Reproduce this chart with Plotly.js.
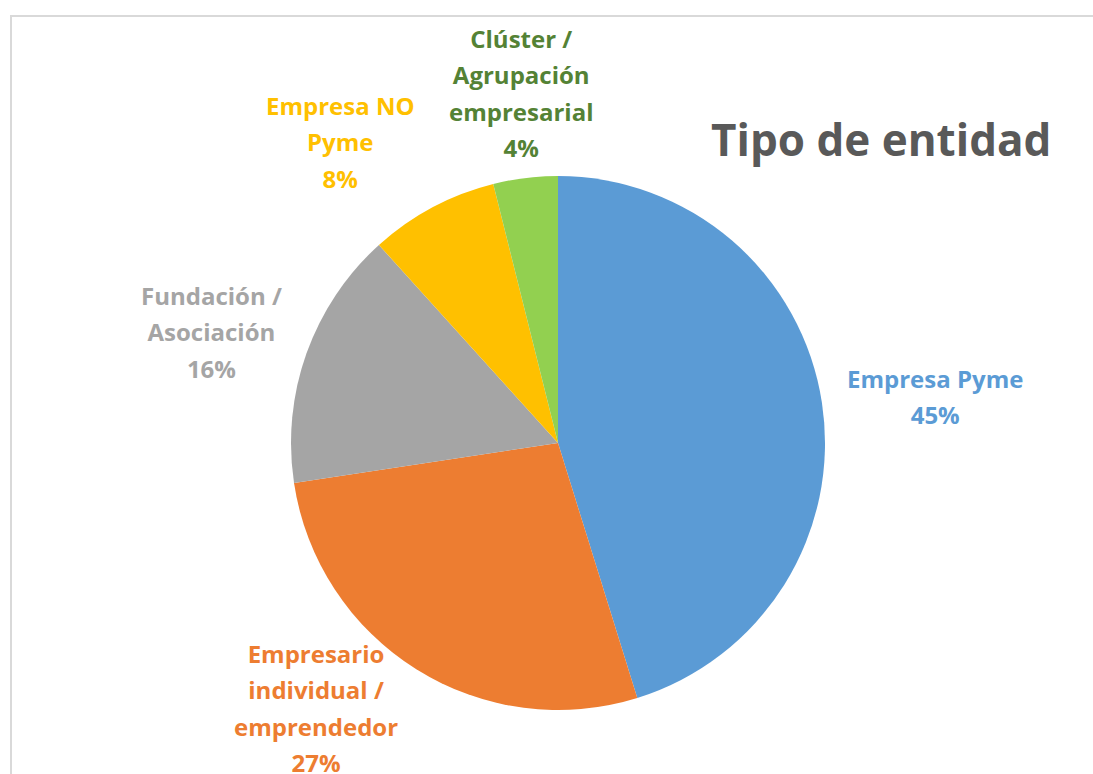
<!DOCTYPE html>
<html>
<head>
<meta charset="utf-8">
<script src="https://cdn.plot.ly/plotly-3.0.1.min.js"></script>
<style>
  html, body { margin: 0; padding: 0; overflow: hidden; background: #fff; }
  #frame { position: absolute; left: 10px; top: 15px; width: 1200px; height: 900px; border: 2px solid #d9d9d9; box-sizing: border-box; }
  #chart { position: absolute; left: 0; top: 0; width: 1093px; height: 774px; }
</style>
</head>
<body>
<div id="frame"></div>
<div id="chart"></div>
<script>
// Data
const categories = ["Empresa Pyme", "Empresario individual / emprendedor", "Fundación / Asociación", "Empresa NO Pyme", "Clúster / Agrupación empresarial"];
const labelLines = [["Empresa Pyme"], ["Empresario", "individual /", "emprendedor"], ["Fundación /", "Asociación"], ["Empresa NO", "Pyme"], ["Clúster /", "Agrupación", "empresarial"]];
const values = [45.2, 27.4, 15.7, 7.8, 3.9];
const sliceColors = ["#5B9BD5", "#ED7D31", "#A5A5A5", "#FFC000", "#92D050"];
const labelColors = ["#5B9BD5", "#ED7D31", "#A5A5A5", "#FFC000", "#548235"];
const chartTitle = "Tipo de entidad";

// Label positions (pixel centres in the 1093x774 canvas)
const W = 1093, H = 774;
const labelPos = [[935, 396], [316, 708], [211, 332], [340, 142], [521, 93]];

const total = values.reduce((a, b) => a + b, 0);
const annotations = categories.map((c, i) => {
  const pct = Math.round(values[i] / total * 100) + "%";
  const lines = labelLines[i].concat([pct]).map(l => '<span style="font-size:24px">' + l + '</span>');
  return {
    text: lines.join("<br>"),
    xref: "paper", yref: "paper",
    x: labelPos[i][0] / W, y: 1 - labelPos[i][1] / H,
    xanchor: "center", yanchor: "middle", align: "center",
    showarrow: false,
    font: { family: "Open Sans, sans-serif", size: 28, color: labelColors[i], weight: 700 }
  };
});

const cx = 558, cy = 443, r = 267;
const trace = {
  type: "pie",
  labels: categories,
  values: values,
  sort: false,
  direction: "clockwise",
  rotation: 0,
  textinfo: "none",
  hoverinfo: "label+percent",
  marker: { colors: sliceColors, line: { width: 0 } },
  domain: { x: [(cx - r) / W, (cx + r) / W], y: [(H - cy - r) / H, (H - cy + r) / H] },
  showlegend: false
};

const layout = {
  width: W, height: H,
  margin: { l: 0, r: 0, t: 0, b: 0 },
  paper_bgcolor: "rgba(0,0,0,0)",
  plot_bgcolor: "rgba(0,0,0,0)",
  title: {
    text: chartTitle,
    xref: "paper", yref: "paper",
    x: 711 / W, xanchor: "left",
    y: 1 - 141 / H, yanchor: "middle",
    font: { family: "Open Sans, sans-serif", size: 44, color: "#595959", weight: 700 }
  },
  annotations: annotations,
  showlegend: false
};

Plotly.newPlot("chart", [trace], layout, { displayModeBar: false, staticPlot: true });
</script>
</body>
</html>
